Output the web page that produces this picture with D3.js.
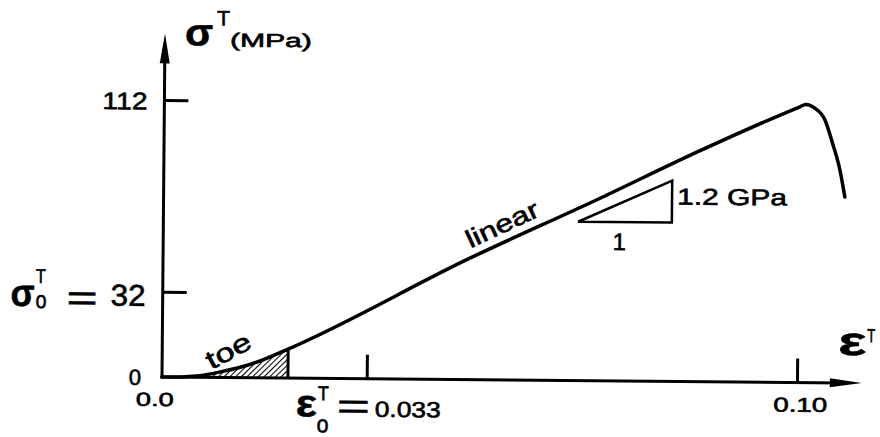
<!DOCTYPE html>
<html>
<head>
<meta charset="utf-8">
<script src="https://cdn.jsdelivr.net/npm/d3@7"></script>
<style>
  html, body { margin: 0; padding: 0; background: #fff; }
  svg { display: block; }
  text { font-family: "Liberation Sans", Arial, Helvetica, sans-serif; fill: #000; stroke: #000; stroke-width: 0.6px; }
</style>
</head>
<body>
<svg id="chart" width="880" height="437"></svg>
<script>
// Tendon tensile stress–strain curve: toe region, linear region, failure.
const strain = [0, 0.0037, 0.0061, 0.0094, 0.0126, 0.0158, 0.0203, 0.0489, 0.0691, 0.0846, 0.1001, 0.1010, 0.1024, 0.1040, 0.1052, 0.1064, 0.1072];
const stress = [0, 0.2, 0.64, 2.1, 3.9, 6.4, 10.9, 47.1, 72.6, 92.8, 111.5, 112.5, 111.0, 106.1, 96.5, 85.2, 74.0];

// Tick positions and their printed labels
const strainTicks = [0.033, 0.10];
const strainTickLabels = ["", "0.10"];
const stressTicks = [32, 112];
const stressTickLabels = ["", "112"];

// End of the toe region (hatched area beneath it)
const toeEndStrain = 0.0203;

// Slope triangle on the linear region
const slopeRun = [0.0657, 0.0803];
const slopeBaseStress = 62.7;
const modulusGPa = 1.2;

// Axis extents (arrow tips)
const strainAxisMax = 0.1101;
const stressAxisMax = 139.8;

const svg = d3.select("#chart");

const x = d3.scaleLinear().domain([0, 0.033, 0.10]).range([162, 366.7, 797]);
const y = d3.scaleLinear().domain([0, 32, 112]).range([377, 291.7, 100]);

const x0 = x(0), y0 = y(0);

// the whole figure sits at a slight tilt
const g = svg.append("g").attr("transform", `rotate(0.5 ${x0} ${y0})`);

// hatch pattern for the toe region
const defs = svg.append("defs");
defs.append("pattern")
  .attr("id", "hatch")
  .attr("patternUnits", "userSpaceOnUse")
  .attr("width", 4).attr("height", 4)
  .attr("patternTransform", "rotate(45)")
  .append("line")
  .attr("x1", 0).attr("y1", 0).attr("x2", 0).attr("y2", 4)
  .attr("stroke", "#000").attr("stroke-width", 2.1);

const pts = strain.map((s, i) => [s, stress[i]]);

// hatched area under the toe
const toePts = pts.filter(p => p[0] <= toeEndStrain);
g.append("path")
  .datum(toePts)
  .attr("fill", "url(#hatch)")
  .attr("d", d3.area().x(d => x(d[0])).y0(y0).y1(d => y(d[1])).curve(d3.curveMonotoneX));
const toeEndStress = stress[strain.indexOf(toeEndStrain)];
g.append("line")
  .attr("x1", x(toeEndStrain)).attr("x2", x(toeEndStrain))
  .attr("y1", y0).attr("y2", y(toeEndStress))
  .attr("stroke", "#000").attr("stroke-width", 3);

// axes: tick marks point inward
const yAxis = d3.axisLeft(y).tickValues(stressTicks).tickSizeInner(-24).tickSizeOuter(0)
  .tickPadding(17).tickFormat((d, i) => stressTickLabels[i]);
const ya = g.append("g").attr("transform", `translate(${x0},0)`).call(yAxis);
ya.select(".domain").remove();
ya.selectAll(".tick line").attr("stroke", "#000").attr("stroke-width", 3);
ya.selectAll(".tick text").attr("font-size", 24).attr("dy", "0.38em")
  .attr("textLength", 45).attr("lengthAdjust", "spacingAndGlyphs");

const xAxis = d3.axisBottom(x).tickValues(strainTicks).tickSizeInner(-24).tickSizeOuter(0)
  .tickPadding(15).tickFormat((d, i) => strainTickLabels[i]);
const xa = g.append("g").attr("transform", `translate(0,${y0})`).call(xAxis);
xa.select(".domain").remove();
xa.selectAll(".tick line").attr("stroke", "#000").attr("stroke-width", 3);
xa.selectAll(".tick text").attr("font-size", 20).attr("dx", 3)
  .attr("textLength", 54).attr("lengthAdjust", "spacingAndGlyphs");

// axis lines with arrowheads
const xTip = x(strainAxisMax), yTip = y(stressAxisMax);
g.append("line").attr("x1", x0 - 1.5).attr("y1", y0).attr("x2", xTip - 20).attr("y2", y0)
  .attr("stroke", "#000").attr("stroke-width", 3);
g.append("line").attr("x1", x0).attr("y1", y0 + 1.5).attr("x2", x0).attr("y2", yTip + 20)
  .attr("stroke", "#000").attr("stroke-width", 3);
g.append("path").attr("fill", "#000")
  .attr("d", `M${xTip},${y0}L${xTip - 32},${y0 - 4.5}L${xTip - 32},${y0 + 4.5}Z`);
g.append("path").attr("fill", "#000")
  .attr("d", `M${x0},${yTip}L${x0 - 5},${yTip + 30}L${x0 + 5},${yTip + 30}Z`);

// the stress–strain curve
g.append("path")
  .datum(pts)
  .attr("fill", "none").attr("stroke", "#000").attr("stroke-width", 3.5)
  .attr("stroke-linejoin", "round").attr("stroke-linecap", "round")
  .attr("d", d3.line().x(d => x(d[0])).y(d => y(d[1])).curve(d3.curveMonotoneX));

// slope triangle: rise = modulus × run
const rise = modulusGPa * 1000 * (slopeRun[1] - slopeRun[0]);
const tA = [x(slopeRun[0]), y(slopeBaseStress)];
const tB = [x(slopeRun[1]), y(slopeBaseStress)];
const tC = [x(slopeRun[1]), y(slopeBaseStress + rise)];
g.append("path")
  .attr("fill", "none").attr("stroke", "#000").attr("stroke-width", 2.5)
  .attr("stroke-linejoin", "miter")
  .attr("d", `M${tA}L${tB}L${tC}Z`);

// single-run text helper
function label(str, px, py, size, opts = {}) {
  const t = g.append("text")
    .attr("x", px).attr("y", py)
    .attr("font-size", size)
    .text(str);
  if (opts.anchor) t.attr("text-anchor", opts.anchor);
  if (opts.width) t.attr("textLength", opts.width).attr("lengthAdjust", "spacingAndGlyphs");
  if (opts.rotate !== undefined) t.attr("transform", `rotate(${opts.rotate} ${px} ${py})`).attr("dy", "0.35em");
  return t;
}

// multi-part label (symbol with super/subscripts) built from tspans
function symbolLabel(parts) {
  const t = g.append("text");
  parts.forEach(p => {
    const s = t.append("tspan")
      .attr("x", p.x).attr("y", p.y)
      .attr("font-size", p.size)
      .text(p.s);
    if (p.bold) s.attr("font-weight", "bold");
    if (p.w) s.attr("textLength", p.w).attr("lengthAdjust", "spacingAndGlyphs");
  });
  return t;
}

// vertical axis title
symbolLabel([
  { s: "σ", x: 182, y: 45, size: 38, bold: true, w: 28 },
  { s: "T", x: 214, y: 25, size: 21, w: 13 },
  { s: "(MPa)", x: 227, y: 46, size: 19, w: 82 }
]);

// horizontal axis title
symbolLabel([
  { s: "ε", x: 838, y: 349, size: 40, bold: true, w: 28 },
  { s: "T", x: 867, y: 336, size: 19, w: 8 }
]);

// origin labels
label("0", 135, 385, 22, { anchor: "middle" });
label("0.0", 136, 406, 19, { width: 38 });

// threshold stress
symbolLabel([
  { s: "σ", x: 10, y: 307, size: 38, bold: true, w: 24 },
  { s: "T", x: 35, y: 284, size: 20, w: 10 },
  { s: "o", x: 35, y: 309, size: 24, w: 11 },
  { s: "=", x: 66, y: 311, size: 36, w: 31 },
  { s: "32", x: 110, y: 306, size: 30, w: 35 }
]);

// threshold strain
symbolLabel([
  { s: "ε", x: 296, y: 415, size: 38, bold: true, w: 21 },
  { s: "T", x: 318, y: 399, size: 20, w: 11 },
  { s: "o", x: 317, y: 431, size: 24, w: 12 },
  { s: "=", x: 337, y: 417, size: 36, w: 33 },
  { s: "0.033", x: 375, y: 415, size: 22, w: 66 }
]);

// region names
label("toe", 228, 350, 26, { anchor: "middle", rotate: -29, width: 48 });
label("linear", 500.7, 221, 25, { anchor: "middle", rotate: -25.5, width: 78 });

// slope annotation
label("1", 618, 246, 24, { anchor: "middle" });
label("1.2 GPa", 675.5, 200, 23, { width: 110 });
</script>
</body>
</html>
